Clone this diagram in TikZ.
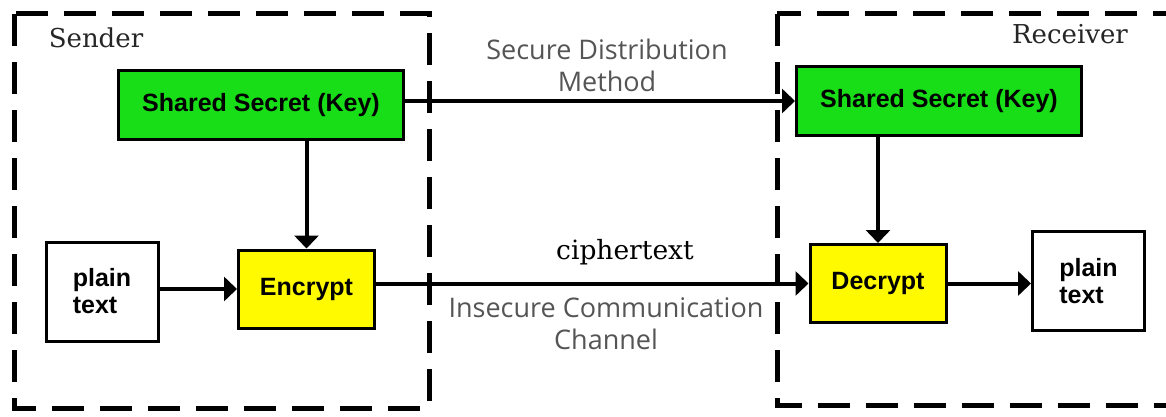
\documentclass[tikz,border=0pt]{standalone}
\usepackage{fontspec}
\setmainfont{Liberation Sans}
\newfontfamily\slabfont{DejaVu Serif}
\newfontfamily\notefont{Open Sans}
\usetikzlibrary{arrows.meta}

\definecolor{keygreen}{RGB}{24,222,24}
\definecolor{boxyellow}{RGB}{255,250,0}
\definecolor{notegray}{RGB}{85,85,85}

\tikzstyle{box}=[draw=black,line width=3pt,inner sep=0pt,font=\fontsize{25}{27}\selectfont\bfseries]
\tikzstyle{keybox}=[box,fill=keygreen,minimum width=285pt,minimum height=69pt]
\tikzstyle{cryptbox}=[box,fill=boxyellow,minimum width=136pt,minimum height=78pt]
\tikzstyle{textbox}=[box,fill=white,minimum width=112pt,minimum height=99pt,align=left]
\tikzstyle{party}=[draw=black,line width=5pt,dash pattern=on 32pt off 16pt]
\tikzstyle{who}=[text=black!85,font=\slabfont\fontsize{26}{28}\selectfont]
\tikzstyle{note}=[text=notegray,align=center,font=\notefont\fontsize{27}{32}\selectfont]
\tikzstyle{arrow}=[line width=4pt,-{Triangle[length=13pt,width=24pt]}]

\begin{document}
\begin{tikzpicture}[x=1pt,y=-1pt]
    \useasboundingbox (0,0) rectangle (1166,417);
    \clip (0,0) rectangle (1166,417);

    % sender and receiver
    \draw[party] (14,14) rectangle (429,408);
    \draw[party] (777,14) rectangle (1190,405);
    \node[who] (s) at (96,38) {Sender};
    \node[who] (r) at (1070,34) {Receiver};

    \node[keybox] (k1) at (261,105) {Shared Secret (Key)};
    \node[cryptbox] (enc) at (306.5,289) {Encrypt};
    \node[textbox] (p1) at (102,291.5) {plain\\text};

    \node[keybox] (k2) at (939,101) {Shared Secret (Key)};
    \node[cryptbox] (dec) at (878,283.5) {Decrypt};
    \node[textbox] (p2) at (1088.5,281) {plain\\text};

    % channels
    \node[note] (sdm) at (607,65) {Secure Distribution\\Method};
    \node[text=black,font=\slabfont\fontsize{26.5}{28}\selectfont] (ct) at (625,252) {ciphertext};
    \node[note] (icc) at (606,324) {Insecure Communication\\Channel};

    \draw[arrow] (p1.east |- enc.west) -- (enc.west);
    \draw[arrow] (k1.south -| enc.north) -- (enc.north);
    \draw[arrow] (k2.west -| k1.east) -- (k2.west);
    \draw[arrow] (dec.west -| enc.east) -- (dec.west);
    \draw[arrow] (k2.south -| dec.north) -- (dec.north);
    \draw[arrow] (dec.east) -- (dec.east -| p2.west);
\end{tikzpicture}
\end{document}
